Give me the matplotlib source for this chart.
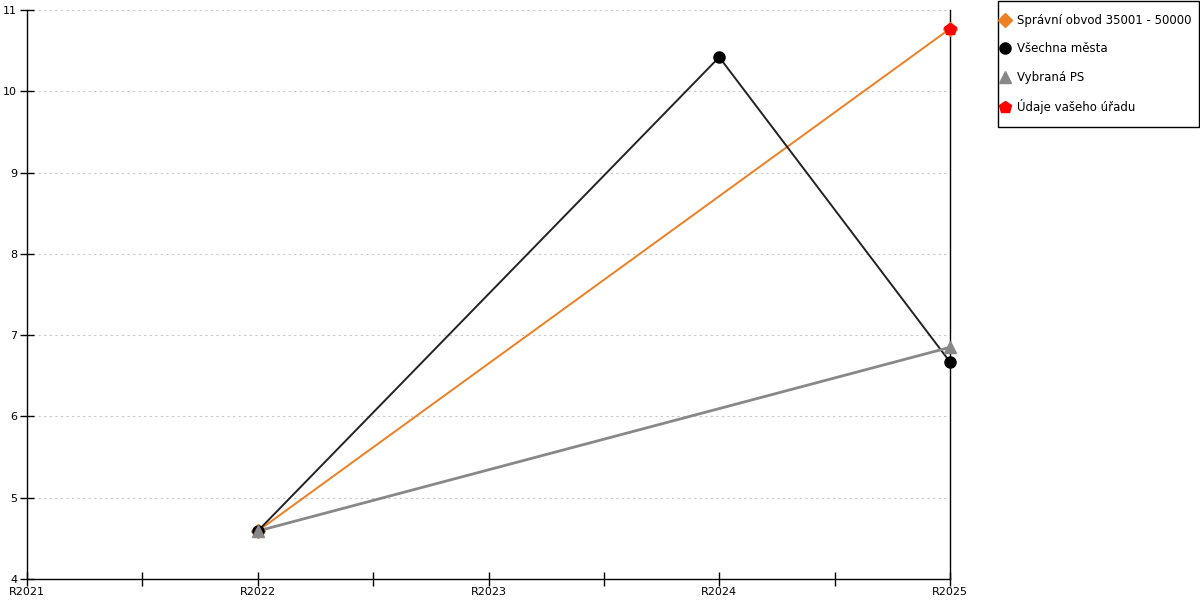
import matplotlib

matplotlib.use("Agg")
import matplotlib.pyplot as plt
from matplotlib.lines import Line2D
from matplotlib.patches import Rectangle
from matplotlib.ticker import MultipleLocator

years = ["R2021", "R2022", "R2023", "R2024", "R2025"]

obvod_x = ["R2022", "R2025"]
obvod_y = [4.59, 10.77]

mesta_x = ["R2022", "R2024", "R2025"]
mesta_y = [4.59, 10.42, 6.67]

ps_x = ["R2022", "R2025"]
ps_y = [4.59, 6.85]

urad_x = ["R2025"]
urad_y = [10.77]

labels = [
    "Správní obvod 35001 - 50000",
    "Všechna města",
    "Vybraná PS",
    "Údaje vašeho úřadu",
]

ORANGE = "#ee7f22"
BLACK = "#000000"
GRAY = "#888888"
RED = "#ff0000"

plt.rcParams["font.family"] = ["DejaVu Sans"]
plt.rcParams["font.size"] = 8

W, H = 1200, 600


def pos(cats):
    return [years.index(c) for c in cats]


fig = plt.figure(figsize=(12, 6), dpi=100)
ax = fig.add_axes([27 / W, 21 / H, 923 / W, 569 / H])

ax.plot(pos(obvod_x), obvod_y, color=ORANGE, lw=1.4, zorder=3)
ax.plot(pos(mesta_x), mesta_y, color="#222222", lw=1.4, zorder=3)
ax.plot(pos(ps_x), ps_y, color=GRAY, lw=2, zorder=3)

mk = dict(ls="none", clip_on=False)
ax.plot(pos(obvod_x), obvod_y, marker="D", ms=7, color=ORANGE, zorder=5, **mk)
ax.plot(pos(mesta_x), mesta_y, marker="o", ms=8, color=BLACK, zorder=5, **mk)
ax.plot(pos(ps_x), ps_y, marker="^", ms=8, color=GRAY, zorder=6, **mk)
ax.plot(pos(urad_x), urad_y, marker="p", ms=9, color=RED, zorder=7, **mk)

ax.set_xlim(0, len(years) - 1)
ax.set_ylim(4, 11)
ax.set_xticks(range(len(years)))
ax.set_xticklabels(years)
ax.xaxis.set_minor_locator(MultipleLocator(0.5))
ax.yaxis.set_major_locator(MultipleLocator(1))
ax.tick_params(axis="both", which="both", direction="inout", length=10,
               width=1, colors="black", labelsize=8)
ax.tick_params(axis="x", which="major", pad=1)
ax.tick_params(axis="y", which="major", pad=2)
ax.yaxis.grid(True, color="#c8c8c8", linestyle=(0, (2, 3)), lw=0.8)
ax.set_axisbelow(True)

ax.spines["top"].set_visible(False)
for s in ("left", "bottom", "right"):
    ax.spines[s].set_color("black")
    ax.spines[s].set_linewidth(1)
ax.spines["right"].set_zorder(4)

# legend: frame drawn separately so the padding can be asymmetric
fig.patches.append(Rectangle((997.5 / W, (H - 127) / H), 201 / W, 126 / H,
                             transform=fig.transFigure, fill=False,
                             edgecolor="black", linewidth=1))
handles = [
    Line2D([], [], ls="none", marker="D", ms=7, color=ORANGE),
    Line2D([], [], ls="none", marker="o", ms=8, color=BLACK),
    Line2D([], [], ls="none", marker="^", ms=8, color=GRAY),
    Line2D([], [], ls="none", marker="p", ms=9, color=RED),
]
fig.legend(handles, labels, loc="upper left",
           bbox_to_anchor=(1000 / W, (H - 14) / H), fontsize=8.5,
           frameon=False, handlelength=0.8, handletextpad=0.65,
           labelspacing=1.3, borderpad=0, borderaxespad=0)

fig.savefig("out.png", dpi=100)
